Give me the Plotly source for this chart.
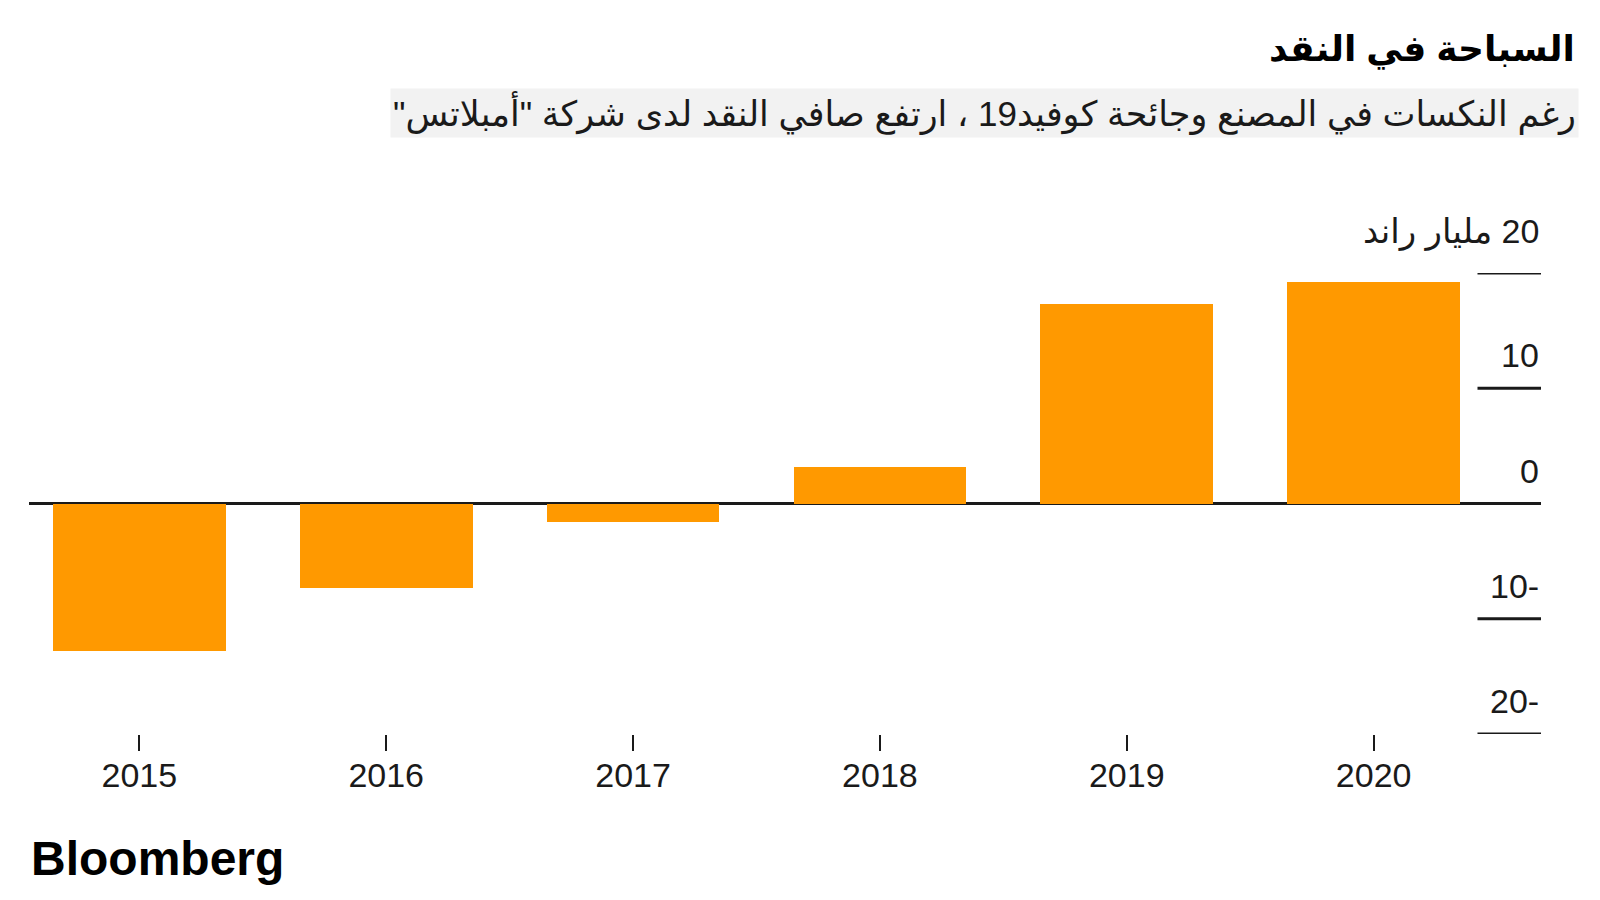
import plotly.graph_objects as go

years = ["2015", "2016", "2017", "2018", "2019", "2020"]
net_cash = [-12.8, -7.3, -1.6, 3.2, 17.3, 19.2]
y_ticks = [20, 10, 0, -10, -20]
y_tick_text = ["\u200f20 مليار راند", "10", "0", "10-", "20-"]

title_text = "السباحة في النقد"
subtitle_text = "\u200fرغم النكسات في المصنع وجائحة كوفيد19 ، ارتفع صافي النقد لدى شركة \"أمبلاتس\"\u200f"

ORANGE = "#FF9900"
DARK = "#1a1a1a"
FONT = "Liberation Sans, DejaVu Sans, sans-serif"

fig = go.Figure()
fig.add_trace(go.Bar(x=years, y=net_cash, marker=dict(color=ORANGE, line=dict(width=0)),
                     width=0.70, hoverinfo="x+y"))

annotations = []
for i, (v, t) in enumerate(zip(y_ticks, y_tick_text)):
    annotations.append(dict(x=1, xref="x domain", y=v, yref="y", text=t, showarrow=False,
                            xanchor="right", yanchor="bottom", yshift=20 if i == 0 else 12,
                            font=dict(family=FONT, size=34, color=DARK)))
annotations.append(dict(x=1.024, xref="paper", y=1.486, yref="paper", text="<b>" + title_text + "</b>",
                        showarrow=False, xanchor="right", yanchor="middle",
                        font=dict(family=FONT, size=36, color="#000")))
annotations.append(dict(x=1.025, xref="paper", y=1.347, yref="paper", text=subtitle_text,
                        showarrow=False, xanchor="right", yanchor="middle", bgcolor="#f2f2f2", borderpad=2,
                        font=dict(family=FONT, size=35, color=DARK)))
annotations.append(dict(x=0, xref="paper", y=-0.271, yref="paper", text="<b>Bloomberg</b>",
                        showarrow=False, xanchor="left", yanchor="middle",
                        font=dict(family=FONT, size=48, color="#000")))

shapes = []
for v in y_ticks:
    if v == 0:
        continue
    shapes.append(dict(type="line", xref="x domain", yref="y", x0=0.958, x1=1, y0=v, y1=v,
                       line=dict(color=DARK, width=3)))

fig.update_layout(
    width=1592, height=892,
    margin=dict(l=21, r=59, t=265, b=166, autoexpand=False),
    paper_bgcolor="white", plot_bgcolor="white",
    showlegend=False, bargap=0,
    annotations=annotations, shapes=shapes,
    xaxis=dict(type="category", range=[-0.447, 5.678], showgrid=False, showline=False,
               ticks="outside", ticklen=16, tickwidth=2, tickcolor=DARK, ticklabelstandoff=-5,
               tickfont=dict(family=FONT, size=34, color=DARK), fixedrange=True),
    yaxis=dict(range=[-20, 20], showgrid=False, showticklabels=False, zeroline=True,
               zerolinecolor=DARK, zerolinewidth=3, layer="above traces", fixedrange=True),
)

fig.write_html("out.html")
